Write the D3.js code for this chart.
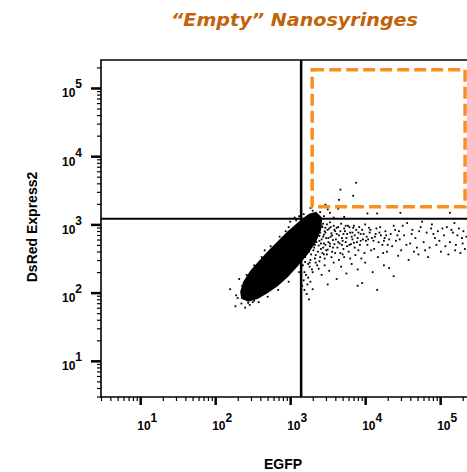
<!DOCTYPE html>
<html lang="en">
<head>
<meta charset="UTF-8">
<title>Empty Nanosyringes</title>
<script src="https://d3js.org/d3.v7.min.js"></script>
<style>
    body { margin: 0; background: #fff; }
    svg { display: block; }
    .axis path { display: none; }
    .axis line { stroke: #000; }
    .lbl { font-family: "Liberation Sans", Arial, sans-serif; font-weight: bold; font-size: 12px; }
    .title-axis { font-family: "Liberation Sans", Arial, sans-serif; font-weight: bold; font-size: 14px; }
</style>
</head>
<body>
<svg width="467" height="472"></svg>
<script>
    // axis extents (EGFP, DsRed Express2 fluorescence)
    let xExtent = [3, 340000];
    let yExtent = [2.95, 257000];
    let decades = [1, 2, 3, 4, 5];

    // quadrant thresholds and the orange gate
    let quadX = 1400, quadY = 1210;
    let gate = {x0: 1965, x1: 215000, y0: 1810, y1: 185000};

    // dense core of the population, outline in log10 units [EGFP, DsRed]
    let coreLog = [[2.333,2.012],[2.373,2.158],[2.467,2.320],[2.573,2.452],[2.707,2.613],[2.840,2.760],
        [2.960,2.891],[3.067,2.994],[3.160,3.082],[3.253,3.155],[3.347,3.185],[3.427,3.097],[3.413,2.921],
        [3.347,2.745],[3.240,2.569],[3.107,2.393],[2.973,2.232],[2.840,2.100],[2.707,1.997],[2.573,1.909],
        [2.440,1.865],[2.347,1.909]];

    // single events, log10 units [EGFP, DsRed]
    let upperEvents = [[3.67,3.51],[3.88,3.61],[3.84,3.42],[3.65,3.36],[3.47,3.29],[3.84,3.26],[3.64,3.23],
        [3.40,3.18],[3.53,3.17],[4.03,3.16],[4.16,3.16],[4.47,3.17],[5.13,3.17],[3.30,3.20],[3.36,3.14],
        [3.45,3.12],[3.58,3.10],[3.72,3.11],[3.27,3.24],[3.50,3.22],[3.22,3.10],[3.28,3.13],[3.18,3.15]];
    let tailNear = [[3.18,3.02],[3.22,2.98],[3.25,3.05],[3.28,2.95],[3.31,3.01],[3.34,2.93],[3.37,2.99],
        [3.40,3.04],[3.43,2.96],[3.46,2.90],[3.49,3.00],[3.52,2.94],[3.55,2.87],[3.58,2.98],[3.20,2.88],
        [3.24,2.82],[3.27,2.90],[3.30,2.86],[3.33,2.80],[3.36,2.88],[3.39,2.83],[3.42,2.78],[3.45,2.85],
        [3.48,2.80],[3.51,2.74],[3.54,2.82],[3.57,2.77],[3.60,2.90],[3.19,2.76],[3.23,2.70],[3.26,2.78],
        [3.29,2.72],[3.32,2.66],[3.35,2.74],[3.38,2.69],[3.41,2.72],[3.44,2.66],[3.47,2.70],[3.50,2.63],
        [3.53,2.68],[3.56,2.60],[3.59,2.71],[3.21,2.64],[3.25,2.60],[3.28,2.56],[3.31,2.62],[3.34,2.55],
        [3.37,2.60],[3.40,2.52],[3.43,2.58],[3.46,2.50],[3.49,2.56],[3.17,2.92],[3.21,2.95],[3.26,3.00],
        [3.35,3.03],[3.44,3.01],[3.53,3.03],[3.38,2.92],[3.47,2.95],
        [3.16,2.86],[3.18,2.70],[3.19,2.98],[3.22,2.78],[3.23,2.90],[3.25,2.66],[3.27,2.84],[3.29,2.97],
        [3.30,2.76],[3.32,2.92],[3.33,2.70],[3.35,2.84],[3.36,2.96],[3.39,2.76],[3.40,2.88],[3.41,2.64],
        [3.42,2.98],[3.44,2.82],[3.45,2.72],[3.47,2.88],[3.48,2.62],[3.50,2.92],[3.51,2.80],[3.53,2.72],
        [3.54,2.96],[3.56,2.84],[3.57,2.66],[3.59,2.92],[3.20,2.52],[3.27,2.48],[3.33,2.50],[3.39,2.46],
        [3.45,2.56],[3.55,2.52],[3.24,2.42],[3.36,2.40],[3.29,2.34],[3.17,2.40],[3.21,2.26],[3.18,2.18],
        [3.23,2.12],[3.19,2.04],[3.27,2.16]];
    let tailMid = [[3.62,2.95],[3.65,2.84],[3.68,3.01],[3.70,2.76],[3.73,2.90],[3.76,2.68],[3.79,2.96],
        [3.82,2.82],[3.85,2.73],[3.88,2.92],[3.91,2.62],[3.94,2.86],[3.97,2.78],[4.00,3.00],[4.03,2.70],
        [4.06,2.88],[4.09,2.80],[4.12,2.64],[4.15,2.94],[4.18,2.74],[4.21,2.84],[4.24,2.58],[4.27,2.90],
        [4.30,2.70],[3.63,2.66],[3.67,2.58],[3.71,2.86],[3.74,2.98],[3.78,2.60],[3.81,2.71],[3.84,2.95],
        [3.87,2.55],[3.90,2.80],[3.93,2.70],[3.96,2.92],[3.99,2.58],[4.02,2.82],[4.05,2.95],[4.08,2.62],
        [4.11,2.76],[4.14,2.86],[4.17,2.52],[4.20,2.96],[4.23,2.70],[4.26,2.80],[4.29,2.60],[3.64,2.74],
        [3.69,2.70],[3.75,2.80],[3.83,2.88],[3.92,2.96],[4.01,2.76],[3.72,2.52],[3.86,2.66],[3.95,2.50],
        [3.61,2.78],[3.62,2.86],[3.64,2.96],[3.66,2.72],[3.67,2.90],[3.69,2.80],[3.71,2.64],[3.72,2.94],
        [3.74,2.74],[3.76,2.86],[3.77,2.98],[3.79,2.70],[3.80,2.88],[3.83,2.78],[3.85,2.98],[3.86,2.84],
        [3.89,2.74],[3.91,2.88],[3.94,2.76],[3.98,2.86],[4.04,2.78],[4.07,2.92],[4.13,2.82],[4.19,2.88],
        [4.25,2.76],[4.28,2.84],[3.60,2.58],[3.70,2.56],[3.80,2.50]];
    let tailFar = [[4.34,2.86],[4.38,2.98],[4.41,2.76],[4.45,2.90],[4.48,2.62],[4.52,2.84],[4.56,3.02],
        [4.60,2.72],[4.63,2.92],[4.67,2.80],[4.71,2.56],[4.74,2.96],[4.78,2.74],[4.82,2.88],[4.86,2.66],
        [4.89,3.00],[4.93,2.80],[4.97,2.90],[5.01,2.60],[5.05,2.84],[5.09,2.96],[5.13,2.74],[5.17,2.88],
        [5.21,2.70],[5.25,2.94],[5.29,2.80],[5.33,2.64],[4.36,2.68],[4.44,2.54],[4.58,2.48],[4.69,2.66],
        [4.84,2.52],[4.95,2.70],[5.11,2.56],[5.27,2.58],[4.50,2.98],[4.76,3.04],[5.19,3.02],[5.31,2.90],
        [4.40,2.92],[4.32,2.78],[4.43,2.84],[4.55,2.70],[4.62,2.86],[4.72,2.90],[4.80,2.62],[4.91,2.86],
        [4.99,2.76],[5.07,2.68],[5.15,2.92],[5.23,2.84],[5.30,2.72],[5.35,2.82],[4.46,2.78],[4.65,2.60],
        [4.88,2.94],[5.03,2.94],[5.20,2.62]];
    let lowerEvents = [[3.20,2.45],[3.26,2.38],[3.30,2.30],[3.24,2.22],[3.34,2.44],[3.38,2.35],[3.42,2.26],
        [3.46,2.40],[3.52,2.32],[3.58,2.44],[3.62,2.20],[3.68,2.38],[3.75,2.28],[3.82,2.42],[3.90,2.34],
        [4.00,2.44],[4.10,2.30],[4.25,2.40],[4.38,2.24],[3.50,2.12],[3.30,2.05],[3.22,1.98],[3.16,2.10],
        [4.32,2.36],[3.96,2.14],[3.19,2.30],[3.25,1.90],[3.65,2.48],[4.16,2.04],[3.90,2.10]];
    let coreEdge = [[2.30,1.92],[2.27,1.80],[2.35,1.84],[2.40,2.06],[2.44,1.85],[2.50,1.86],[2.36,2.00],
        [2.46,2.22],[2.55,2.30],[2.52,1.88],[2.60,1.96],[2.66,2.00],[2.58,2.38],[2.68,2.45],[2.72,2.06],
        [2.78,2.10],[2.76,2.58],[2.84,2.66],[2.86,2.18],[2.92,2.24],[2.90,2.78],[2.98,2.34],[3.02,2.88],
        [3.04,2.40],[3.08,2.98],[3.10,2.46],[2.40,1.78],[2.62,2.08],[2.82,2.12],[2.96,2.30],[3.00,3.04],
        [3.06,3.10],[3.12,3.12],[2.20,2.05],[2.32,2.20],[2.50,2.12],
        [2.36,2.10],[2.42,2.26],[2.52,2.40],[2.62,2.52],[2.74,2.68],[2.86,2.82],[2.98,2.96],[3.08,3.06],
        [2.46,1.82],[2.58,1.86],[2.70,1.94],[2.84,2.04],[2.98,2.16],[3.12,2.30],[3.26,2.44],[2.28,1.96],
        [2.66,2.62],[2.94,2.90]];

    let svg = d3.select('svg');
    let plot = {left: 101, right: 480, top: 60, bottom: 397};

    let xScale = d3.scaleLog().domain(xExtent).range([plot.left, plot.right]);
    let yScale = d3.scaleLog().domain(yExtent).range([plot.bottom, plot.top]);

    let minors = function (ext) {
        let out = [];
        for (let d = 0; d <= 5; d++) {
            for (let k = 2; k <= 9; k++) {
                let v = k * Math.pow(10, d);
                if (v >= ext[0] && v <= ext[1]) out.push(v);
            }
        }
        return out;
    };
    let majors = decades.map(function (d) { return Math.pow(10, d); });

    // minor ticks
    svg.append('g').attr('class', 'axis')
        .attr('transform', 'translate(0,' + plot.bottom + ')')
        .call(d3.axisBottom(xScale).tickValues(minors(xExtent)).tickSize(4).tickFormat(''))
        .selectAll('line').attr('stroke-width', 1.2);
    svg.append('g').attr('class', 'axis')
        .attr('transform', 'translate(' + plot.left + ',0)')
        .call(d3.axisLeft(yScale).tickValues(minors(yExtent)).tickSize(4).tickFormat(''))
        .selectAll('line').attr('stroke-width', 1.2);
    // major ticks
    svg.append('g').attr('class', 'axis')
        .attr('transform', 'translate(0,' + plot.bottom + ')')
        .call(d3.axisBottom(xScale).tickValues(majors).tickSize(8).tickFormat(''))
        .selectAll('line').attr('stroke-width', 2.5);
    svg.append('g').attr('class', 'axis')
        .attr('transform', 'translate(' + plot.left + ',0)')
        .call(d3.axisLeft(yScale).tickValues(majors).tickSize(10).tickFormat(''))
        .selectAll('line').attr('stroke-width', 2.5);

    // tick labels 10^n
    decades.forEach(function (d) {
        let v = Math.pow(10, d);
        let tx = svg.append('text').attr('class', 'lbl')
            .attr('x', xScale(v) - 3).attr('y', plot.bottom + 33);
        tx.append('tspan').text('10');
        tx.append('tspan').attr('dy', -8.5).text(d);
        let ty = svg.append('text').attr('class', 'lbl')
            .attr('x', plot.left - 39).attr('y', yScale(v) + 9.5);
        ty.append('tspan').text('10');
        ty.append('tspan').attr('dy', -9).text(d);
    });

    // frame
    svg.append('path')
        .attr('d', 'M' + plot.right + ',' + plot.top + 'H' + plot.left + 'V' + plot.bottom + 'H' + plot.right)
        .attr('fill', 'none').attr('stroke', '#000').attr('stroke-width', 1.6);

    // events
    let toXY = function (d) { return [xScale(Math.pow(10, d[0])), yScale(Math.pow(10, d[1]))]; };
    let core = d3.line()
        .x(function (d) { return toXY(d)[0]; })
        .y(function (d) { return toXY(d)[1]; })
        .curve(d3.curveLinearClosed);
    svg.append('path').attr('d', core(coreLog)).attr('fill', '#000');

    let events = [].concat(upperEvents, tailNear, tailMid, tailFar, lowerEvents, coreEdge);
    svg.append('g').selectAll('rect').data(events).join('rect')
        .attr('x', function (d) { return toXY(d)[0] - 0.9; })
        .attr('y', function (d) { return toXY(d)[1] - 0.9; })
        .attr('width', 1.8).attr('height', 1.8).attr('fill', '#000');

    // quadrant lines
    svg.append('line')
        .attr('x1', xScale(quadX)).attr('x2', xScale(quadX))
        .attr('y1', plot.top).attr('y2', plot.bottom)
        .attr('stroke', '#000').attr('stroke-width', 2.5);
    svg.append('line')
        .attr('x1', plot.left).attr('x2', plot.right)
        .attr('y1', yScale(quadY)).attr('y2', yScale(quadY))
        .attr('stroke', '#000').attr('stroke-width', 2);

    // gate
    svg.append('rect')
        .attr('x', xScale(gate.x0)).attr('y', yScale(gate.y1))
        .attr('width', xScale(gate.x1) - xScale(gate.x0))
        .attr('height', yScale(gate.y0) - yScale(gate.y1))
        .attr('fill', 'none').attr('stroke', '#f7901e')
        .attr('stroke-width', 3.5).attr('stroke-dasharray', '12,5');

    // titles
    svg.append('text').attr('class', 'title-axis')
        .attr('x', 283).attr('y', 469).attr('text-anchor', 'middle').text('EGFP');
    svg.append('text').attr('class', 'title-axis')
        .attr('transform', 'translate(37,227) rotate(-90)')
        .attr('text-anchor', 'middle').text('DsRed Express2');
    svg.append('text')
        .attr('x', 171).attr('y', 26)
        .attr('textLength', 247).attr('lengthAdjust', 'spacingAndGlyphs')
        .style('font-family', '"DejaVu Sans", sans-serif')
        .style('font-weight', 'bold').style('font-style', 'italic').style('font-size', '18px')
        .attr('fill', '#c0630a')
        .text('\u201cEmpty\u201d Nanosyringes');
</script>
</body>
</html>
